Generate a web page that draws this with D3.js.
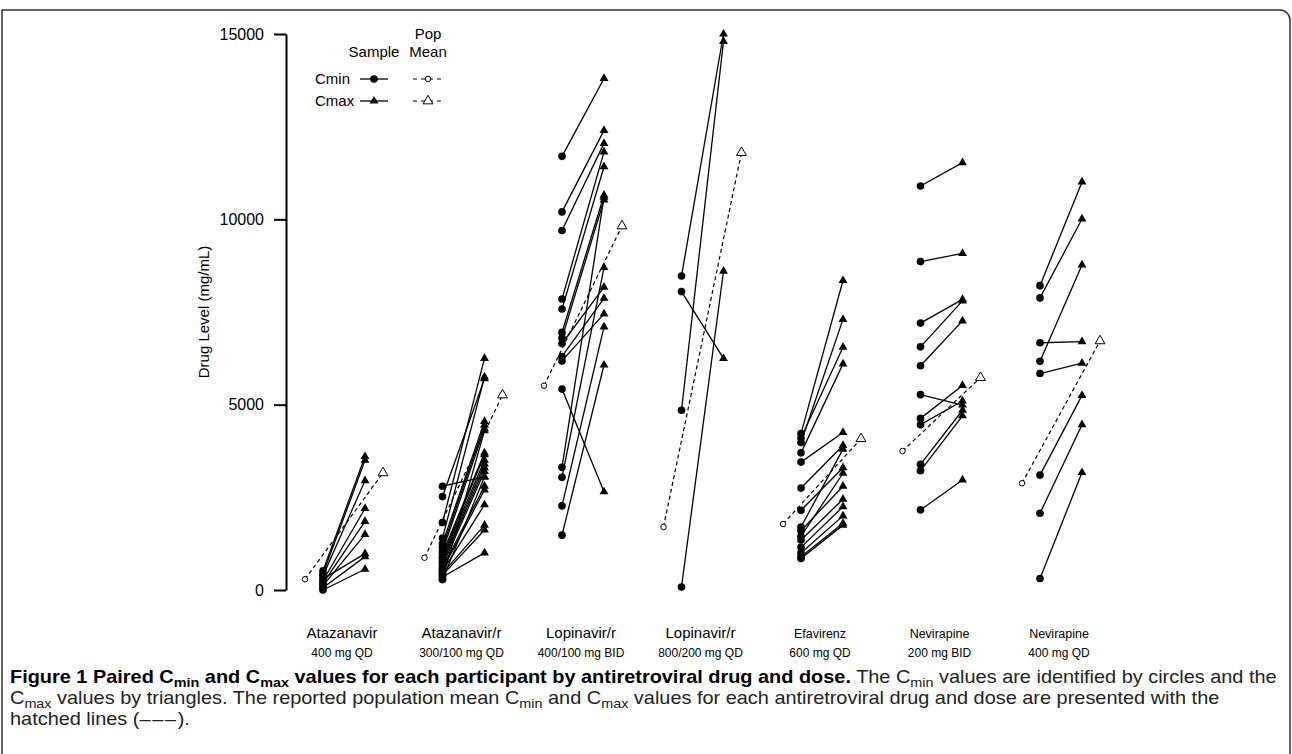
<!DOCTYPE html>
<html>
<head>
<meta charset="utf-8">
<script src="https://cdn.jsdelivr.net/npm/d3@7"></script>
<style>
  body { margin: 0; background: #fff; }
  svg { display: block; }
  text { font-family: "Liberation Sans", Arial, sans-serif; fill: #000; }
</style>
</head>
<body>
<script>
// drugs and doses along the x axis
var drugNames = ["Atazanavir", "Atazanavir/r", "Lopinavir/r", "Lopinavir/r ", "Efavirenz", "Nevirapine", "Nevirapine "];
var doseLabels = ["400 mg QD", "300/100 mg QD", "400/100 mg BID", "800/200 mg QD", "600 mg QD", "200 mg BID", "400 mg QD"];

// per participant Cmin / Cmax (same order = same participant)
var cminValues = [
  [520, 430, 380, 300, 250, 180, 120, 60, 0],
  [2800, 2520, 1820, 1400, 1250, 1150, 1050, 980, 900, 850, 780, 720, 650, 600, 550, 500, 450, 400, 350, 300, 280],
  [11700, 10200, 9700, 7850, 7580, 6950, 6800, 6650, 6300, 6180, 5420, 3310, 3040, 2270, 1480],
  [8470, 8050, 4850, 80],
  [4220, 4100, 3980, 3700, 3450, 2750, 2150, 1700, 1600, 1450, 1350, 1150, 1000, 900, 850],
  [10900, 8860, 7200, 6560, 6050, 5270, 4630, 4460, 3390, 3220, 2160],
  [8210, 7880, 6670, 6170, 5840, 3100, 2070, 310]
];
var cmaxValues = [
  [3600, 3500, 2950, 980, 2200, 1850, 1500, 900, 560],
  [3050, 5700, 6250, 5750, 4550, 4450, 4350, 3700, 3650, 3500, 3400, 3300, 3200, 2800, 2700, 2300, 1750, 1620, 1000, 4300, 3050],
  [13800, 12400, 12050, 11820, 11420, 10650, 10520, 8170, 7870, 7450, 2650, 10600, 8700, 7100, 6070],
  [15000, 6250, 14800, 8600],
  [8350, 6550, 7300, 6100, 4250, 3900, 3300, 3800, 2800, 3150, 2450, 2250, 2000, 1800, 1750],
  [11530, 9080, 7840, 7800, 7260, 4990, 5520, 5100, 4850, 4700, 2970],
  [11010, 10010, 6700, 8770, 6120, 5250, 4460, 3170]
];

// reported population means
var popCmin = [290, 870, 5510, 1700, 1780, 3750, 2880];
var popCmax = [3160, 5260, 9820, 11800, 4080, 5730, 6720];

var yTicks = [0, 5000, 10000, 15000];

var width = 1292, height = 754;

var svg = d3.select("body").append("svg")
  .attr("width", width)
  .attr("height", height);

// figure frame
svg.append("path")
  .attr("d", "M2,754V10H1280A10,10 0 0 1 1290,20V754")
  .attr("fill", "none")
  .attr("stroke", "#333")
  .attr("stroke-width", 1.5);

var y = d3.scaleLinear().domain([0, 15000]).range([590, 34]);
var x = d3.scalePoint().domain(drugNames).range([323, 1040]);
var off = { popMin: -18, min: 0, max: 42, popMax: 60, label: 19 };

var circle = d3.symbol().type(d3.symbolCircle).size(46);
var triangle = d3.symbol().type(d3.symbolTriangle).size(34);
var openCircle = d3.symbol().type(d3.symbolCircle).size(24);
var openTriangle = d3.symbol().type(d3.symbolTriangle).size(42);

// y axis
var yAxis = svg.append("g")
  .attr("transform", "translate(286,0)")
  .call(d3.axisLeft(y).tickValues(yTicks).tickSize(12).tickSizeOuter(0).tickPadding(10).tickFormat(d3.format("d")));
yAxis.select(".domain").attr("stroke", "#000").attr("stroke-width", 2);
yAxis.selectAll(".tick line").attr("stroke", "#000").attr("stroke-width", 2);
yAxis.selectAll(".tick text")
  .attr("fill", "#000")
  .style("font-size", "16px")
  .style("font-family", "'Liberation Sans', Arial, sans-serif");

svg.append("text")
  .attr("transform", "translate(209," + ((y(0) + y(15000)) / 2) + ") rotate(-90)")
  .attr("text-anchor", "middle")
  .style("font-size", "15px")
  .text("Drug Level (mg/mL)");

// participant pairs
var pairs = [];
drugNames.forEach(function(name, i) {
  cminValues[i].forEach(function(v, j) {
    pairs.push({ drug: name, cmin: v, cmax: cmaxValues[i][j] });
  });
});

var plot = svg.append("g");

plot.selectAll(".pair")
  .data(pairs)
  .enter().append("line")
  .attr("class", "pair")
  .attr("x1", function(d) { return x(d.drug) + off.min; })
  .attr("y1", function(d) { return y(d.cmin); })
  .attr("x2", function(d) { return x(d.drug) + off.max; })
  .attr("y2", function(d) { return y(d.cmax); })
  .attr("stroke", "#000")
  .attr("stroke-width", 1.3);

plot.selectAll(".cmin")
  .data(pairs)
  .enter().append("path")
  .attr("class", "cmin")
  .attr("d", circle)
  .attr("transform", function(d) { return "translate(" + (x(d.drug) + off.min) + "," + y(d.cmin) + ")"; })
  .attr("fill", "#000");

plot.selectAll(".cmax")
  .data(pairs)
  .enter().append("path")
  .attr("class", "cmax")
  .attr("d", triangle)
  .attr("transform", function(d) { return "translate(" + (x(d.drug) + off.max) + "," + y(d.cmax) + ")"; })
  .attr("fill", "#000");

// population mean, dashed
plot.selectAll(".pop")
  .data(drugNames)
  .enter().append("line")
  .attr("class", "pop")
  .attr("x1", function(d) { return x(d) + off.popMin; })
  .attr("y1", function(d, i) { return y(popCmin[i]); })
  .attr("x2", function(d) { return x(d) + off.popMax; })
  .attr("y2", function(d, i) { return y(popCmax[i]); })
  .attr("stroke", "#000")
  .attr("stroke-width", 1.2)
  .attr("stroke-dasharray", "4,3");

plot.selectAll(".popmin")
  .data(drugNames)
  .enter().append("path")
  .attr("class", "popmin")
  .attr("d", openCircle)
  .attr("transform", function(d, i) { return "translate(" + (x(d) + off.popMin) + "," + y(popCmin[i]) + ")"; })
  .attr("fill", "#fff").attr("stroke", "#000").attr("stroke-width", 1);

plot.selectAll(".popmax")
  .data(drugNames)
  .enter().append("path")
  .attr("class", "popmax")
  .attr("d", openTriangle)
  .attr("transform", function(d, i) { return "translate(" + (x(d) + off.popMax) + "," + y(popCmax[i]) + ")"; })
  .attr("fill", "#fff").attr("stroke", "#000").attr("stroke-width", 1);

// group labels
var labels = svg.selectAll(".glabel")
  .data(drugNames)
  .enter().append("g")
  .attr("class", "glabel")
  .attr("transform", function(d) { return "translate(" + (x(d) + off.label) + ",0)"; });
labels.append("text")
  .attr("y", 638)
  .attr("text-anchor", "middle")
  .style("font-size", function(d, i) { return i >= 4 ? "12.5px" : "15px"; })
  .text(function(d) { return d.trim(); });
labels.append("text")
  .attr("y", 657)
  .attr("text-anchor", "middle")
  .style("font-size", "12px")
  .text(function(d, i) { return doseLabels[i]; });

// legend
var legend = svg.append("g").style("font-size", "15px");
legend.append("text").attr("x", 374).attr("y", 57).attr("text-anchor", "middle").text("Sample");
legend.append("text").attr("x", 428).attr("y", 39).attr("text-anchor", "middle").text("Pop");
legend.append("text").attr("x", 428).attr("y", 57).attr("text-anchor", "middle").text("Mean");

var legendRows = [
  { label: "Cmin", yy: 79, sym: circle, open: openCircle },
  { label: "Cmax", yy: 101, sym: triangle, open: openTriangle }
];
legendRows.forEach(function(r) {
  legend.append("text").attr("x", 315).attr("y", r.yy + 5).text(r.label);
  legend.append("line").attr("x1", 360).attr("x2", 388).attr("y1", r.yy).attr("y2", r.yy)
    .attr("stroke", "#000").attr("stroke-width", 1.3);
  legend.append("path").attr("d", r.sym).attr("transform", "translate(374," + r.yy + ")").attr("fill", "#000");
  legend.append("line").attr("x1", 413).attr("x2", 443).attr("y1", r.yy).attr("y2", r.yy)
    .attr("stroke", "#000").attr("stroke-width", 1.2).attr("stroke-dasharray", "4,4");
  legend.append("path").attr("d", r.open).attr("transform", "translate(428," + r.yy + ")")
    .attr("fill", "#fff").attr("stroke", "#000").attr("stroke-width", 1);
});

// caption
var cap = svg.append("g").attr("class", "caption");
var capFont = "'Liberation Sans Narrow', 'Liberation Sans', Arial, sans-serif";

function addLine(yy, parts) {
  var t = cap.append("text").attr("x", 10).attr("y", yy)
    .style("font-family", capFont).style("font-size", "18px");
  parts.forEach(function(p) {
    var s = t.append("tspan").text(p.t)
      .style("font-weight", p.b ? "bold" : "normal")
      .attr("fill", p.b ? "#000" : "#222");
    if (p.ls) s.style("letter-spacing", p.ls);
    if (p.sub) {
      s.style("font-size", "13px").attr("dy", 4);
    } else if (p.after) {
      s.attr("dy", -4);
    }
  });
  return t;
}

var line1 = addLine(683, [
  { t: "Figure 1 Paired C", b: true }, { t: "min", b: true, sub: true },
  { t: " and C", b: true, after: true }, { t: "max", b: true, sub: true },
  { t: " values for each participant by antiretroviral drug and dose.", b: true, after: true },
  { t: " The C" }, { t: "min", sub: true },
  { t: " values are identified by circles and the", after: true }
]);
var line2 = addLine(704, [
  { t: "C" }, { t: "max", sub: true },
  { t: " values by triangles. The reported population mean C", after: true }, { t: "min", sub: true },
  { t: " and C", after: true }, { t: "max", sub: true },
  { t: " values for each antiretroviral drug and dose are presented with the", after: true }
]);
var line3 = addLine(725, [
  { t: "hatched lines (" }, { t: "\u2013\u2013\u2013", ls: "1.5px" }, { t: ")." }
]);

var natural = line1.node().getComputedTextLength();
var k = 1268 / natural;
[line1, line2, line3].forEach(function(t) {
  t.attr("transform", "translate(10,0) scale(" + k + ",1) translate(-10,0)");
});
</script>
</body>
</html>
